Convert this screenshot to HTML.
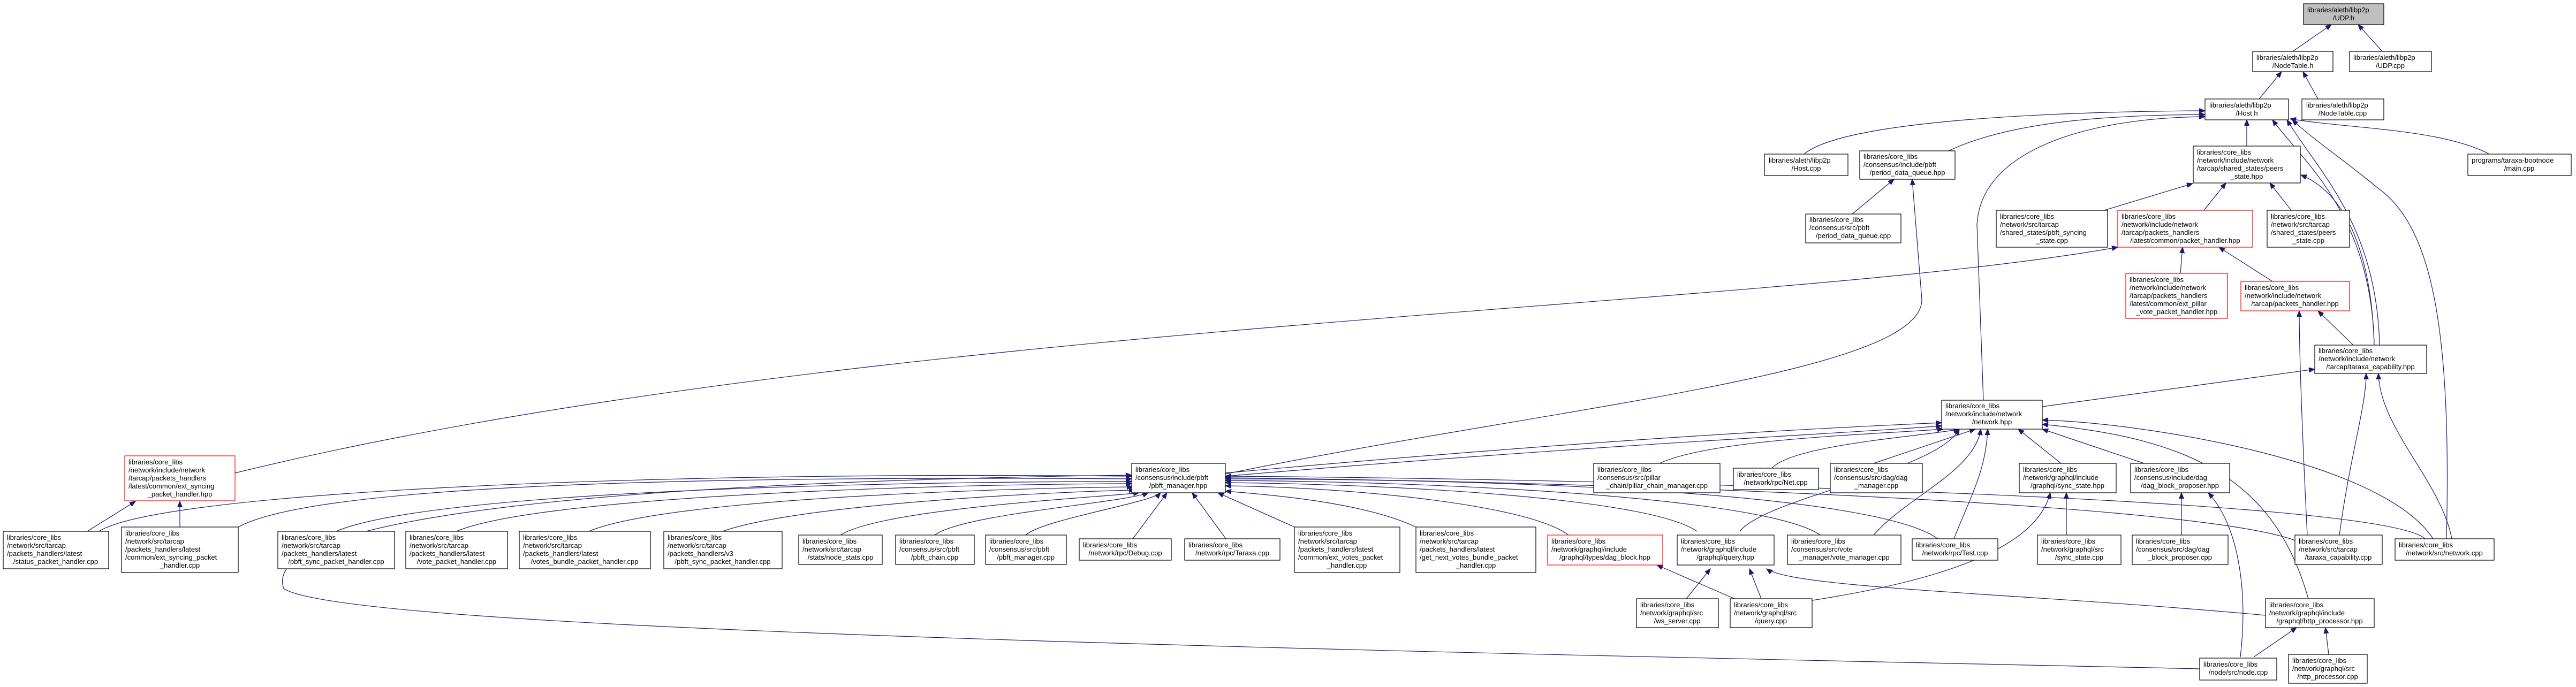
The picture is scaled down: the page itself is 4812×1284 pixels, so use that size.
<!DOCTYPE html>
<html><head><meta charset="utf-8">
<style>
html,body{margin:0;padding:0;background:#fff;}
svg{display:block;}
text{font-family:"Liberation Sans",sans-serif;font-size:13px;fill:#000;}
.b{fill:#fff;stroke:#000;stroke-width:1.2;}
.r{fill:#fff;stroke:#f00;stroke-width:1.2;}
.g{fill:#bfbfbf;stroke:#000;stroke-width:1.2;}
path.e{fill:none;stroke:#191970;stroke-width:1.2;marker-end:url(#a);}
</style></head><body>
<svg width="4812" height="1284" viewBox="0 0 4812 1284" xmlns="http://www.w3.org/2000/svg">
<defs><marker id="a" markerUnits="userSpaceOnUse" markerWidth="12" markerHeight="10" refX="11" refY="4.5" orient="auto"><path d="M0,0 L11,4.5 L0,9 z" fill="#191970" stroke="#191970"/></marker></defs>

<!-- edges -->
<path class="e" d="M4283,96 L4355,46"/>
<path class="e" d="M4450,96 L4405,46"/>
<path class="e" d="M4220,185 L4262,134"/>
<path class="e" d="M4330,185 L4302,134"/>
<path class="e" d="M3370,288 C3450,220 3900,208 4119,207"/>
<path class="e" d="M3640,282 C3760,225 3950,215 4119,214"/>
<path class="e" d="M3705,748 L3693,420 C3700,280 3900,220 4119,218"/>
<path class="e" d="M4197,273 L4197,224"/>
<path class="e" d="M4650,288 C4560,240 4380,240 4278,222"/>
<path class="e" d="M4445,645 C4440,420 4330,320 4272,224"/>
<path class="e" d="M4435,645 C4430,400 4300,300 4245,224"/>
<path class="e" d="M4570,1007 C4580,600 4540,420 4440,350 C4380,300 4320,260 4282,224"/>
<path class="e" d="M3460,400 L3538,335"/>
<path class="e" d="M2289,886 C2900,760 3590,700 3590,560 L3572,335"/>
<path class="e" d="M3931,393 L4096,343"/>
<path class="e" d="M4117,393 L4158,342"/>
<path class="e" d="M4280,393 L4240,342"/>
<path class="e" d="M4435,645 C4430,470 4380,360 4298,327"/>
<path class="e" d="M4073,511 L4077,462"/>
<path class="e" d="M4245,526 L4145,462"/>
<path class="e" d="M439,884 C1600,600 3300,580 3956,462"/>
<path class="e" d="M4396,645 L4330,581"/>
<path class="e" d="M4310,1000 C4300,800 4295,650 4295,581"/>
<path class="e" d="M3815,760 L4324,690"/>
<path class="e" d="M4370,1000 C4390,850 4420,760 4420,698"/>
<path class="e" d="M4580,1007 C4560,900 4445,800 4443,698"/>
<path class="e" d="M2289,884 C3000,820 3400,800 3627,790"/>
<path class="e" d="M2289,890 C3000,830 3450,810 3627,796"/>
<path class="e" d="M3100,866 C3200,820 3500,812 3630,802"/>
<path class="e" d="M3310,875 C3350,830 3600,815 3660,802"/>
<path class="e" d="M3500,866 L3690,802"/>
<path class="e" d="M3850,866 L3770,802"/>
<path class="e" d="M4005,866 L3815,802"/>
<path class="e" d="M3250,993 C3300,930 3620,880 3660,802"/>
<path class="e" d="M3500,1000 C3560,930 3690,880 3700,802"/>
<path class="e" d="M3650,1007 C3680,930 3710,880 3713,802"/>
<path class="e" d="M4545,1007 C4450,860 4000,790 3815,785"/>
<path class="e" d="M4312,1119 C4250,900 4100,820 3815,793"/>
<path class="e" d="M163,993 L253,937"/>
<path class="e" d="M336,985 L336,937"/>
<path class="e" d="M185,993 C300,920 1200,880 2114,890"/>
<path class="e" d="M445,985 C600,900 1400,890 2114,895"/>
<path class="e" d="M628,993 C800,920 1600,900 2114,900"/>
<path class="e" d="M853,993 C1000,930 1700,905 2114,904"/>
<path class="e" d="M1100,993 C1250,930 1900,912 2116,910"/>
<path class="e" d="M1350,993 C1500,940 2000,918 2120,916"/>
<path class="e" d="M1570,1000 C1650,950 2050,930 2128,921"/>
<path class="e" d="M1746,1000 C1800,960 2100,940 2145,921"/>
<path class="e" d="M1916,1000 C1950,970 2150,940 2168,921"/>
<path class="e" d="M2116,1007 L2180,921"/>
<path class="e" d="M2290,1007 L2227,921"/>
<path class="e" d="M2418,985 L2275,921"/>
<path class="e" d="M2645,985 C2550,940 2380,925 2289,918"/>
<path class="e" d="M2930,1000 C2850,940 2500,910 2289,908"/>
<path class="e" d="M3170,993 C3080,930 2600,905 2289,902"/>
<path class="e" d="M3400,1000 C3300,930 2700,900 2289,898"/>
<path class="e" d="M3620,1007 C3500,920 2800,895 2289,895"/>
<path class="e" d="M4287,1010 C4100,940 3000,900 2289,893"/>
<path class="e" d="M4530,1007 C4450,930 3000,895 2289,890"/>
<path class="e" d="M4109,1250 C2500,1215 650,1180 530,1100 C480,960 1200,900 2114,888"/>
<path class="e" d="M3860,1000 L3860,921"/>
<path class="e" d="M3330,1130 C3700,1080 3810,1000 3830,921"/>
<path class="e" d="M4075,1000 L4075,921"/>
<path class="e" d="M4185,1228 C4200,1100 4180,980 4125,921"/>
<path class="e" d="M3240,1119 L3095,1056"/>
<path class="e" d="M3150,1119 L3195,1063"/>
<path class="e" d="M3290,1119 L3268,1063"/>
<path class="e" d="M4232,1150 C3800,1110 3350,1100 3300,1063"/>
<path class="e" d="M4210,1228 L4290,1173"/>
<path class="e" d="M4350,1223 L4344,1173"/>

<!-- nodes -->
<g>
<rect class="g" x="4303" y="7" width="150" height="39"/>
<text x="4310" y="23">libraries/aleth/libp2p</text><text x="4378" y="38" text-anchor="middle">/UDP.h</text>

<rect class="b" x="4208" y="96" width="150" height="38"/>
<text x="4215" y="112">libraries/aleth/libp2p</text><text x="4283" y="127" text-anchor="middle">/NodeTable.h</text>

<rect class="b" x="4389" y="96" width="153" height="38"/>
<text x="4396" y="112">libraries/aleth/libp2p</text><text x="4465" y="127" text-anchor="middle">/UDP.cpp</text>

<rect class="b" x="4119" y="185" width="156" height="39"/>
<text x="4127" y="201">libraries/aleth/libp2p</text><text x="4197" y="216" text-anchor="middle">/Host.h</text>

<rect class="b" x="4300" y="185" width="153" height="39"/>
<text x="4308" y="201">libraries/aleth/libp2p</text><text x="4376" y="216" text-anchor="middle">/NodeTable.cpp</text>

<rect class="b" x="3296" y="288" width="156" height="40"/>
<text x="3304" y="304">libraries/aleth/libp2p</text><text x="3374" y="319" text-anchor="middle">/Host.cpp</text>

<rect class="b" x="3474" y="282" width="178" height="53"/>
<text x="3481" y="297">libraries/core_libs</text><text x="3481" y="312">/consensus/include/pbft</text><text x="3563" y="327" text-anchor="middle">/period_data_queue.hpp</text>

<rect class="b" x="4610" y="288" width="193" height="40"/>
<text x="4617" y="304">programs/taraxa-bootnode</text><text x="4706" y="319" text-anchor="middle">/main.cpp</text>

<rect class="b" x="4097" y="273" width="200" height="69"/>
<text x="4104" y="289">libraries/core_libs</text><text x="4104" y="304">/network/include/network</text><text x="4104" y="319">/tarcap/shared_states/peers</text><text x="4197" y="334" text-anchor="middle">_state.hpp</text>

<rect class="b" x="3373" y="400" width="178" height="54"/>
<text x="3380" y="415">libraries/core_libs</text><text x="3380" y="430">/consensus/src/pbft</text><text x="3462" y="445" text-anchor="middle">/period_data_queue.cpp</text>

<rect class="b" x="3729" y="393" width="208" height="69"/>
<text x="3736" y="409">libraries/core_libs</text><text x="3736" y="424">/network/src/tarcap</text><text x="3736" y="439">/shared_states/pbft_syncing</text><text x="3833" y="454" text-anchor="middle">_state.cpp</text>

<rect class="r" x="3956" y="393" width="252" height="69"/>
<text x="3963" y="409">libraries/core_libs</text><text x="3963" y="424">/network/include/network</text><text x="3963" y="439">/tarcap/packets_handlers</text><text x="4082" y="454" text-anchor="middle">/latest/common/packet_handler.hpp</text>

<rect class="b" x="4235" y="393" width="154" height="69"/>
<text x="4242" y="409">libraries/core_libs</text><text x="4242" y="424">/network/src/tarcap</text><text x="4242" y="439">/shared_states/peers</text><text x="4312" y="454" text-anchor="middle">_state.cpp</text>

<rect class="r" x="3971" y="511" width="190" height="84"/>
<text x="3978" y="527">libraries/core_libs</text><text x="3978" y="542">/network/include/network</text><text x="3978" y="557">/tarcap/packets_handlers</text><text x="3978" y="572">/latest/common/ext_pillar</text><text x="4066" y="587" text-anchor="middle">_vote_packet_handler.hpp</text>

<rect class="r" x="4186" y="526" width="203" height="55"/>
<text x="4193" y="542">libraries/core_libs</text><text x="4193" y="557">/network/include/network</text><text x="4287" y="572" text-anchor="middle">/tarcap/packets_handler.hpp</text>

<rect class="b" x="4324" y="645" width="209" height="53"/>
<text x="4331" y="660">libraries/core_libs</text><text x="4331" y="675">/network/include/network</text><text x="4428" y="690" text-anchor="middle">/tarcap/taraxa_capability.hpp</text>

<rect class="b" x="3627" y="748" width="188" height="54"/>
<text x="3634" y="763">libraries/core_libs</text><text x="3634" y="778">/network/include/network</text><text x="3721" y="793" text-anchor="middle">/network.hpp</text>

<rect class="r" x="233" y="852" width="206" height="84"/>
<text x="240" y="868">libraries/core_libs</text><text x="240" y="883">/network/include/network</text><text x="240" y="898">/tarcap/packets_handlers</text><text x="240" y="913">/latest/common/ext_syncing</text><text x="336" y="928" text-anchor="middle">_packet_handler.hpp</text>

<rect class="b" x="2114" y="866" width="175" height="55"/>
<text x="2121" y="882">libraries/core_libs</text><text x="2121" y="897">/consensus/include/pbft</text><text x="2201" y="912" text-anchor="middle">/pbft_manager.hpp</text>

<rect class="b" x="2977" y="866" width="236" height="55"/>
<text x="2984" y="882">libraries/core_libs</text><text x="2984" y="897">/consensus/src/pillar</text><text x="3095" y="912" text-anchor="middle">_chain/pillar_chain_manager.cpp</text>

<rect class="b" x="3238" y="875" width="159" height="40"/>
<text x="3245" y="891">libraries/core_libs</text><text x="3317" y="906" text-anchor="middle">/network/rpc/Net.cpp</text>

<rect class="b" x="3419" y="866" width="172" height="55"/>
<text x="3426" y="882">libraries/core_libs</text><text x="3426" y="897">/consensus/src/dag/dag</text><text x="3505" y="912" text-anchor="middle">_manager.cpp</text>

<rect class="b" x="3772" y="866" width="181" height="55"/>
<text x="3779" y="882">libraries/core_libs</text><text x="3779" y="897">/network/graphql/include</text><text x="3862" y="912" text-anchor="middle">/graphql/sync_state.hpp</text>

<rect class="b" x="3980" y="866" width="185" height="55"/>
<text x="3987" y="882">libraries/core_libs</text><text x="3987" y="897">/consensus/include/dag</text><text x="4072" y="912" text-anchor="middle">/dag_block_proposer.hpp</text>

<!-- bottom row -->
<rect class="b" x="6" y="993" width="197" height="70"/>
<text x="13" y="1009">libraries/core_libs</text><text x="13" y="1024">/network/src/tarcap</text><text x="13" y="1039">/packets_handlers/latest</text><text x="104" y="1054" text-anchor="middle">/status_packet_handler.cpp</text>

<rect class="b" x="227" y="985" width="218" height="85"/>
<text x="234" y="1001">libraries/core_libs</text><text x="234" y="1016">/network/src/tarcap</text><text x="234" y="1031">/packets_handlers/latest</text><text x="234" y="1046">/common/ext_syncing_packet</text><text x="336" y="1061" text-anchor="middle">_handler.cpp</text>

<rect class="b" x="519" y="993" width="218" height="70"/>
<text x="526" y="1009">libraries/core_libs</text><text x="526" y="1024">/network/src/tarcap</text><text x="526" y="1039">/packets_handlers/latest</text><text x="628" y="1054" text-anchor="middle">/pbft_sync_packet_handler.cpp</text>

<rect class="b" x="758" y="993" width="190" height="70"/>
<text x="765" y="1009">libraries/core_libs</text><text x="765" y="1024">/network/src/tarcap</text><text x="765" y="1039">/packets_handlers/latest</text><text x="853" y="1054" text-anchor="middle">/vote_packet_handler.cpp</text>

<rect class="b" x="970" y="993" width="245" height="70"/>
<text x="977" y="1009">libraries/core_libs</text><text x="977" y="1024">/network/src/tarcap</text><text x="977" y="1039">/packets_handlers/latest</text><text x="1092" y="1054" text-anchor="middle">/votes_bundle_packet_handler.cpp</text>

<rect class="b" x="1240" y="993" width="221" height="70"/>
<text x="1247" y="1009">libraries/core_libs</text><text x="1247" y="1024">/network/src/tarcap</text><text x="1247" y="1039">/packets_handlers/v3</text><text x="1350" y="1054" text-anchor="middle">/pbft_sync_packet_handler.cpp</text>

<rect class="b" x="1492" y="1000" width="156" height="55"/>
<text x="1499" y="1016">libraries/core_libs</text><text x="1499" y="1031">/network/src/tarcap</text><text x="1570" y="1046" text-anchor="middle">/stats/node_stats.cpp</text>

<rect class="b" x="1673" y="1000" width="147" height="55"/>
<text x="1680" y="1016">libraries/core_libs</text><text x="1680" y="1031">/consensus/src/pbft</text><text x="1746" y="1046" text-anchor="middle">/pbft_chain.cpp</text>

<rect class="b" x="1841" y="1000" width="151" height="55"/>
<text x="1848" y="1016">libraries/core_libs</text><text x="1848" y="1031">/consensus/src/pbft</text><text x="1916" y="1046" text-anchor="middle">/pbft_manager.cpp</text>

<rect class="b" x="2016" y="1007" width="172" height="40"/>
<text x="2023" y="1023">libraries/core_libs</text><text x="2102" y="1038" text-anchor="middle">/network/rpc/Debug.cpp</text>

<rect class="b" x="2213" y="1007" width="178" height="40"/>
<text x="2220" y="1023">libraries/core_libs</text><text x="2302" y="1038" text-anchor="middle">/network/rpc/Taraxa.cpp</text>

<rect class="b" x="2418" y="985" width="197" height="85"/>
<text x="2425" y="1001">libraries/core_libs</text><text x="2425" y="1016">/network/src/tarcap</text><text x="2425" y="1031">/packets_handlers/latest</text><text x="2425" y="1046">/common/ext_votes_packet</text><text x="2516" y="1061" text-anchor="middle">_handler.cpp</text>

<rect class="b" x="2645" y="985" width="224" height="85"/>
<text x="2652" y="1001">libraries/core_libs</text><text x="2652" y="1016">/network/src/tarcap</text><text x="2652" y="1031">/packets_handlers/latest</text><text x="2652" y="1046">/get_next_votes_bundle_packet</text><text x="2757" y="1061" text-anchor="middle">_handler.cpp</text>

<rect class="r" x="2891" y="1000" width="215" height="56"/>
<text x="2898" y="1016">libraries/core_libs</text><text x="2898" y="1031">/network/graphql/include</text><text x="2998" y="1046" text-anchor="middle">/graphql/types/dag_block.hpp</text>

<rect class="b" x="3133" y="1000" width="181" height="56"/>
<text x="3140" y="1016">libraries/core_libs</text><text x="3140" y="1031">/network/graphql/include</text><text x="3223" y="1046" text-anchor="middle">/graphql/query.hpp</text>

<rect class="b" x="3339" y="1000" width="212" height="55"/>
<text x="3346" y="1016">libraries/core_libs</text><text x="3346" y="1031">/consensus/src/vote</text><text x="3445" y="1046" text-anchor="middle">_manager/vote_manager.cpp</text>

<rect class="b" x="3572" y="1007" width="160" height="40"/>
<text x="3579" y="1023">libraries/core_libs</text><text x="3652" y="1038" text-anchor="middle">/network/rpc/Test.cpp</text>

<rect class="b" x="3806" y="1000" width="156" height="55"/>
<text x="3813" y="1016">libraries/core_libs</text><text x="3813" y="1031">/network/graphql/src</text><text x="3884" y="1046" text-anchor="middle">/sync_state.cpp</text>

<rect class="b" x="3983" y="1000" width="179" height="55"/>
<text x="3990" y="1016">libraries/core_libs</text><text x="3990" y="1031">/consensus/src/dag/dag</text><text x="4072" y="1046" text-anchor="middle">_block_proposer.cpp</text>

<rect class="b" x="4287" y="1000" width="163" height="55"/>
<text x="4294" y="1016">libraries/core_libs</text><text x="4294" y="1031">/network/src/tarcap</text><text x="4368" y="1046" text-anchor="middle">/taraxa_capability.cpp</text>

<rect class="b" x="4474" y="1007" width="185" height="40"/>
<text x="4481" y="1023">libraries/core_libs</text><text x="4566" y="1038" text-anchor="middle">/network/src/network.cpp</text>

<rect class="b" x="3057" y="1119" width="153" height="54"/>
<text x="3064" y="1135">libraries/core_libs</text><text x="3064" y="1150">/network/graphql/src</text><text x="3133" y="1165" text-anchor="middle">/ws_server.cpp</text>

<rect class="b" x="3232" y="1119" width="153" height="54"/>
<text x="3239" y="1135">libraries/core_libs</text><text x="3239" y="1150">/network/graphql/src</text><text x="3308" y="1165" text-anchor="middle">/query.cpp</text>

<rect class="b" x="4232" y="1119" width="203" height="54"/>
<text x="4239" y="1135">libraries/core_libs</text><text x="4239" y="1150">/network/graphql/include</text><text x="4333" y="1165" text-anchor="middle">/graphql/http_processor.hpp</text>

<rect class="b" x="4109" y="1230" width="144" height="41"/>
<text x="4116" y="1246">libraries/core_libs</text><text x="4181" y="1261" text-anchor="middle">/node/src/node.cpp</text>

<rect class="b" x="4275" y="1223" width="147" height="54"/>
<text x="4282" y="1239">libraries/core_libs</text><text x="4282" y="1254">/network/graphql/src</text><text x="4348" y="1269" text-anchor="middle">/http_processor.cpp</text>
</g>
</svg>
</body></html>
